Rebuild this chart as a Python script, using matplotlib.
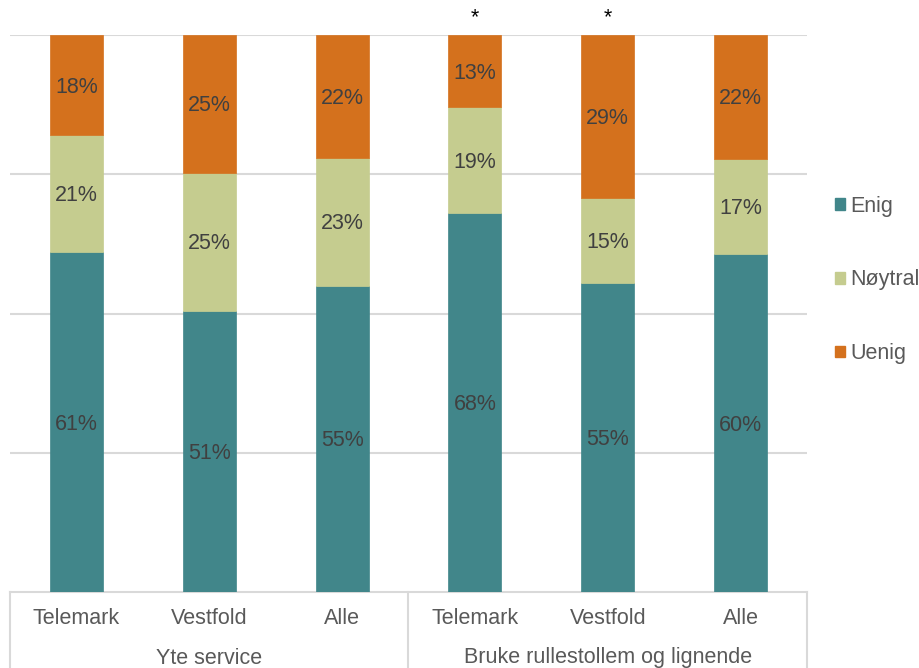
import matplotlib
matplotlib.use("Agg")
import matplotlib.pyplot as plt
import numpy as np
from matplotlib.patches import Patch

plt.rcParams['font.family'] = ['Liberation Sans', 'DejaVu Sans']

groups = ["Yte service", "Bruke rullestollem og lignende"]
regions = ["Telemark", "Vestfold", "Alle", "Telemark", "Vestfold", "Alle"]
enig = [61, 51, 55, 68, 55, 60]
noytral = [21, 25, 23, 19, 15, 17]
uenig = [18, 25, 22, 13, 29, 22]
stars = ["", "", "", "*", "*", ""]
series_names = ["Enig", "Nøytral", "Uenig"]
colors = ["#41868A", "#C5CC8F", "#D4711D"]

FS = 15.5

fig = plt.figure(figsize=(9.2, 6.68), dpi=100)
ax = fig.add_axes([10/920, 76/668, 797/920, 557/668])

vals = np.array([enig, noytral, uenig], dtype=float)
tot = vals.sum(axis=0)
frac = vals / tot
x = np.arange(len(regions))
bottom = np.zeros(len(regions))
for i in range(3):
    ax.bar(x, frac[i], 0.4, bottom=bottom, color=colors[i], zorder=3,
           edgecolor=colors[i], linewidth=0.5)
    for j in range(len(regions)):
        ax.text(x[j], bottom[j] + frac[i][j] / 2 - 2/557, f"{int(vals[i][j])}%",
                ha="center", va="center", fontsize=FS, color="#404040", zorder=4)
    bottom += frac[i]

for j, s in enumerate(stars):
    if s:
        ax.text(x[j], 1.0 + 17/557, s, ha="center", va="center", fontsize=FS,
                color="black", clip_on=False)

ax.set_xlim(-0.5, 5.5)
ax.set_ylim(0, 1)
ax.set_yticks([0.25, 0.5, 0.75, 1.0])
ax.yaxis.grid(True, color="#D9D9D9", linewidth=1.5, zorder=0)
ax.tick_params(left=False, labelleft=False, bottom=False, labelbottom=False)
for sp in ["left", "right", "top"]:
    ax.spines[sp].set_visible(False)
ax.spines["bottom"].set_color("#D9D9D9")
ax.spines["bottom"].set_linewidth(1.5)

# category table
trans = ax.get_xaxis_transform()
depth = 76/557
for xv in [-0.5, 2.5, 5.5]:
    ax.plot([xv, xv], [0, -depth], transform=trans, color="#D9D9D9",
            linewidth=1.5, clip_on=False)
for j, r in enumerate(regions):
    ax.text(x[j], -27/557, r, transform=trans, ha="center", va="center",
            fontsize=FS, color="#595959")
for g, name in enumerate(groups):
    ax.text(g * 3 + 1, -66/557, name, transform=trans, ha="center", va="center",
            fontsize=FS, color="#595959")

handles = [Patch(facecolor=c, edgecolor=c) for c in colors]
leg = fig.legend(handles, series_names, loc="center left",
                 bbox_to_anchor=(835/920, 1 - 280/668), frameon=False,
                 fontsize=FS, handlelength=0.45, handleheight=0.45,
                 handletextpad=0.25, labelspacing=2.45, borderpad=0,
                 borderaxespad=0)
for t in leg.get_texts():
    t.set_color("#595959")

fig.savefig("out.png", dpi=100)
